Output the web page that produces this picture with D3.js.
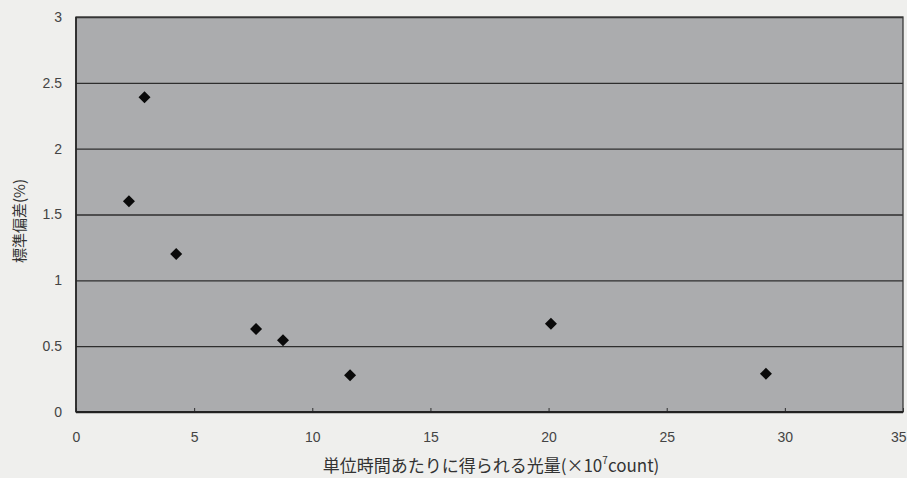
<!DOCTYPE html>
<html><head><meta charset="utf-8">
<script src="https://cdn.jsdelivr.net/npm/d3@7"></script>
<style>body{margin:0;background:#efefed;}svg{display:block;}</style>
</head><body>
<svg id="c" width="907" height="478"></svg>
<script>
const xValues = [2.24, 2.90, 4.24, 7.62, 8.76, 11.6, 20.1, 29.2];
const yValues = [1.60, 2.39, 1.20, 0.63, 0.545, 0.28, 0.67, 0.29];
const xTicks = [0, 5, 10, 15, 20, 25, 30, 35];
const yTicks = [0, 0.5, 1, 1.5, 2, 2.5, 3];
const xTitle = "単位時間あたりに得られる光量(×10";
const xTitleSup = "7";
const xTitleEnd = "count)";
const yTitle = "標準偏差(%)";

const svg = d3.select("#c");
const L = 76, R = 903, T = 17, B = 412;
const x = d3.scaleLinear().domain([0, 35]).range([L, R]);
const y = d3.scaleLinear().domain([0, 3]).range([B, T]);
const font = "'Liberation Sans', Arial, sans-serif";
const jfont = "'Noto Sans CJK JP', sans-serif";

svg.append("rect").attr("width", 907).attr("height", 478).attr("fill", "#efefed");
svg.append("rect").attr("x", L).attr("y", T).attr("width", R - L).attr("height", B - T)
  .attr("fill", "#abacae");

// gridlines
const yAxis = d3.axisLeft(y).tickValues(yTicks).tickSize(-(R - L)).tickFormat(d3.format("")).tickPadding(14);
const gy = svg.append("g").attr("transform", `translate(${L},0)`).call(yAxis);
gy.select(".domain").remove();
gy.selectAll(".tick line").attr("stroke", "#2e2e2e").attr("stroke-width", 1.3);
gy.selectAll(".tick text").attr("font-family", font).attr("font-size", 14).attr("fill", "#444");

const xAxis = d3.axisBottom(x).tickValues(xTicks).tickSize(-4).tickPadding(20).tickFormat(d3.format(""));
const gx = svg.append("g").attr("transform", `translate(0,${B})`).call(xAxis);
gx.select(".domain").remove();
gx.selectAll(".tick line").attr("stroke", "#2e2e2e");
gx.selectAll(".tick text").attr("font-family", font).attr("font-size", 14).attr("fill", "#444");
gx.selectAll(".tick").filter(d => d === 35).select("text").attr("text-anchor", "end").attr("dx", 3);

// frame
svg.append("rect").attr("x", L).attr("y", T).attr("width", R - L).attr("height", B - T)
  .attr("fill", "none").attr("stroke", "#3a3a3a").attr("stroke-width", 1.3);
svg.append("line").attr("x1", L).attr("x2", R).attr("y1", B).attr("y2", B).attr("stroke", "#222").attr("stroke-width", 2);
svg.append("line").attr("x1", L).attr("x2", L).attr("y1", T).attr("y2", B).attr("stroke", "#222").attr("stroke-width", 1.6);

// points
const diamond = "M0,-6L6,0L0,6L-6,0Z";
svg.append("g").selectAll("path").data(xValues.map((v, i) => [v, yValues[i]])).join("path")
  .attr("d", diamond)
  .attr("transform", d => `translate(${x(d[0])},${y(d[1])})`)
  .attr("fill", "#0a0a0a");

// titles
const xt = svg.append("text").attr("x", 491).attr("y", 472).attr("text-anchor", "middle")
  .attr("font-family", jfont).attr("font-size", 17).attr("fill", "#333");
xt.append("tspan").text(xTitle);
xt.append("tspan").attr("font-size", 10).attr("dy", -8).text(xTitleSup);
xt.append("tspan").attr("dy", 8).text(xTitleEnd);

svg.append("text").attr("transform", "translate(25,221) rotate(-90)").attr("text-anchor", "middle")
  .attr("font-family", jfont).attr("font-size", 15).attr("fill", "#333").text(yTitle);
</script>
</body></html>
